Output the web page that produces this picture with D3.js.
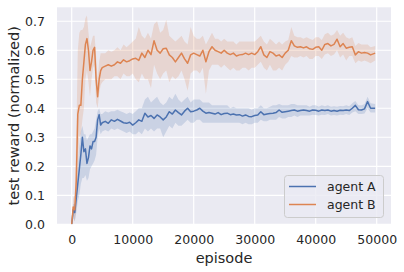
<!DOCTYPE html>
<html>
<head>
<meta charset="utf-8">
<script src="https://cdn.jsdelivr.net/npm/d3@7"></script>
<style>
  body { margin: 0; background: #fff; }
  svg text { font-family: "DejaVu Sans", sans-serif; fill: #262626; }
</style>
</head>
<body>
<script>
// episodes (x values)
const episodes = [0, 250, 500, 750, 1000, 1250, 1500, 1750, 2000, 2250, 2500, 2750, 3000, 3250, 3500, 3750, 4000, 4250, 4500, 4750, 5000,
  5500, 6000, 6500, 7000, 7500, 8000, 8500, 9000, 9500, 10000, 10500, 11000, 11500, 12000, 12500, 13000, 13500, 14000, 14500, 15000,
  15500, 16000, 16500, 17000, 17500, 18000, 18500, 19000, 19500, 20000, 20500, 21000, 21500, 22000, 22500, 23000, 23500, 24000, 24500, 25000,
  25500, 26000, 26500, 27000, 27500, 28000, 28500, 29000, 29500, 30000, 30500, 31000, 31500, 32000, 32500, 33000, 33500, 34000, 34500, 35000,
  35500, 36000, 36500, 37000, 37500, 38000, 38500, 39000, 39500, 40000, 40500, 41000, 41500, 42000, 42500, 43000, 43500, 44000, 44500, 45000,
  45500, 46000, 46500, 47000, 47500, 48000, 48500, 49000, 49750];

// agent A: mean and band
const agentA = [0.00, 0.05, 0.04, 0.09, 0.14, 0.19, 0.24, 0.30, 0.25, 0.26, 0.21, 0.23, 0.27, 0.26, 0.285, 0.285, 0.30, 0.36, 0.378, 0.342, 0.35,
  0.355, 0.348, 0.36, 0.355, 0.362, 0.356, 0.35, 0.348, 0.352, 0.342, 0.35, 0.36, 0.355, 0.383, 0.37, 0.375, 0.365, 0.377, 0.37, 0.36,
  0.37, 0.388, 0.38, 0.394, 0.385, 0.377, 0.39, 0.40, 0.388, 0.39, 0.394, 0.40, 0.39, 0.383, 0.385, 0.383, 0.38, 0.385, 0.378, 0.382,
  0.383, 0.378, 0.38, 0.377, 0.378, 0.373, 0.377, 0.372, 0.371, 0.375, 0.377, 0.388, 0.378, 0.38, 0.382, 0.383, 0.385, 0.394, 0.386, 0.388,
  0.39, 0.392, 0.394, 0.39, 0.392, 0.394, 0.392, 0.39, 0.394, 0.393, 0.39, 0.394, 0.392, 0.394, 0.39, 0.392, 0.39, 0.393, 0.392, 0.394,
  0.392, 0.40, 0.41, 0.395, 0.394, 0.398, 0.423, 0.40, 0.40];
const agentALow = [0.00, 0.02, 0.01, 0.04, 0.08, 0.10, 0.14, 0.16, 0.16, 0.17, 0.15, 0.16, 0.19, 0.20, 0.21, 0.22, 0.24, 0.30, 0.33, 0.31, 0.32,
  0.325, 0.32, 0.33, 0.325, 0.33, 0.325, 0.32, 0.315, 0.32, 0.31, 0.31, 0.32, 0.31, 0.33, 0.32, 0.33, 0.32, 0.33, 0.33, 0.30,
  0.32, 0.34, 0.33, 0.35, 0.34, 0.34, 0.35, 0.36, 0.35, 0.35, 0.36, 0.36, 0.35, 0.35, 0.35, 0.35, 0.35, 0.35, 0.35, 0.35,
  0.35, 0.35, 0.35, 0.35, 0.35, 0.345, 0.35, 0.345, 0.345, 0.35, 0.35, 0.36, 0.355, 0.355, 0.36, 0.36, 0.36, 0.37, 0.365, 0.365,
  0.37, 0.37, 0.375, 0.37, 0.375, 0.375, 0.375, 0.375, 0.378, 0.377, 0.375, 0.378, 0.377, 0.38, 0.375, 0.377, 0.375, 0.378, 0.377, 0.38,
  0.377, 0.385, 0.39, 0.38, 0.38, 0.382, 0.40, 0.385, 0.385];
const agentAHigh = [0.01, 0.07, 0.07, 0.14, 0.20, 0.27, 0.32, 0.34, 0.31, 0.31, 0.29, 0.30, 0.31, 0.31, 0.32, 0.33, 0.36, 0.39, 0.40, 0.38, 0.38,
  0.39, 0.385, 0.39, 0.39, 0.395, 0.39, 0.385, 0.38, 0.385, 0.38, 0.39, 0.40, 0.40, 0.43, 0.44, 0.42, 0.43, 0.44, 0.42, 0.41,
  0.42, 0.44, 0.43, 0.45, 0.43, 0.42, 0.43, 0.44, 0.42, 0.43, 0.43, 0.43, 0.42, 0.42, 0.42, 0.41, 0.41, 0.41, 0.41, 0.41,
  0.41, 0.40, 0.405, 0.40, 0.40, 0.40, 0.40, 0.40, 0.395, 0.40, 0.40, 0.41, 0.40, 0.40, 0.405, 0.41, 0.41, 0.415, 0.41, 0.41,
  0.41, 0.415, 0.415, 0.41, 0.41, 0.41, 0.41, 0.405, 0.41, 0.41, 0.405, 0.41, 0.407, 0.41, 0.405, 0.407, 0.405, 0.408, 0.407, 0.41,
  0.407, 0.417, 0.425, 0.41, 0.41, 0.414, 0.44, 0.417, 0.415];

// agent B: mean and band
const agentB = [0.00, 0.06, 0.05, 0.15, 0.38, 0.41, 0.41, 0.50, 0.56, 0.62, 0.64, 0.60, 0.53, 0.56, 0.60, 0.61, 0.50, 0.44, 0.50, 0.53, 0.54,
  0.545, 0.55, 0.545, 0.55, 0.56, 0.555, 0.567, 0.56, 0.564, 0.57, 0.572, 0.565, 0.59, 0.575, 0.60, 0.585, 0.633, 0.60, 0.59, 0.605,
  0.607, 0.584, 0.575, 0.56, 0.575, 0.59, 0.57, 0.555, 0.584, 0.59, 0.585, 0.58, 0.60, 0.56, 0.595, 0.612, 0.60, 0.595, 0.59, 0.60,
  0.59, 0.585, 0.59, 0.58, 0.584, 0.585, 0.59, 0.585, 0.59, 0.585, 0.595, 0.612, 0.584, 0.575, 0.595, 0.59, 0.58, 0.584, 0.575, 0.59,
  0.60, 0.633, 0.615, 0.61, 0.612, 0.608, 0.612, 0.605, 0.603, 0.61, 0.612, 0.60, 0.62, 0.623, 0.615, 0.62, 0.638, 0.612, 0.623, 0.607,
  0.61, 0.612, 0.584, 0.595, 0.59, 0.592, 0.59, 0.584, 0.59];
const agentBLow = [0.00, 0.03, 0.01, 0.05, 0.22, 0.30, 0.31, 0.36, 0.40, 0.50, 0.53, 0.49, 0.44, 0.50, 0.54, 0.55, 0.42, 0.40, 0.45, 0.48, 0.49,
  0.50, 0.50, 0.50, 0.51, 0.51, 0.50, 0.52, 0.51, 0.51, 0.52, 0.50, 0.49, 0.52, 0.50, 0.50, 0.47, 0.55, 0.52, 0.50, 0.52,
  0.53, 0.49, 0.51, 0.50, 0.51, 0.53, 0.50, 0.46, 0.52, 0.53, 0.53, 0.52, 0.54, 0.45, 0.53, 0.55, 0.55, 0.55, 0.54, 0.55,
  0.54, 0.53, 0.54, 0.53, 0.53, 0.54, 0.54, 0.53, 0.54, 0.54, 0.55, 0.56, 0.54, 0.53, 0.55, 0.53, 0.53, 0.54, 0.53, 0.55,
  0.56, 0.58, 0.575, 0.575, 0.58, 0.575, 0.58, 0.57, 0.57, 0.58, 0.58, 0.57, 0.585, 0.59, 0.58, 0.585, 0.60, 0.575, 0.585, 0.565,
  0.58, 0.58, 0.555, 0.565, 0.56, 0.565, 0.56, 0.555, 0.565];
const agentBHigh = [0.01, 0.09, 0.10, 0.30, 0.60, 0.66, 0.67, 0.67, 0.68, 0.71, 0.72, 0.66, 0.61, 0.63, 0.65, 0.65, 0.58, 0.50, 0.56, 0.59, 0.59,
  0.59, 0.60, 0.595, 0.60, 0.61, 0.60, 0.62, 0.61, 0.62, 0.63, 0.64, 0.68, 0.65, 0.64, 0.66, 0.64, 0.69, 0.70, 0.66, 0.67,
  0.705, 0.65, 0.64, 0.63, 0.64, 0.65, 0.63, 0.62, 0.68, 0.65, 0.64, 0.64, 0.65, 0.62, 0.64, 0.66, 0.64, 0.64, 0.63, 0.64,
  0.63, 0.63, 0.63, 0.62, 0.63, 0.63, 0.63, 0.63, 0.63, 0.63, 0.64, 0.65, 0.63, 0.62, 0.64, 0.63, 0.62, 0.63, 0.62, 0.63,
  0.635, 0.68, 0.65, 0.645, 0.645, 0.64, 0.645, 0.64, 0.635, 0.645, 0.645, 0.635, 0.655, 0.66, 0.65, 0.655, 0.67, 0.65, 0.66, 0.645,
  0.64, 0.645, 0.615, 0.625, 0.62, 0.62, 0.62, 0.61, 0.615];

const xTicks = [0, 10000, 20000, 30000, 40000, 50000];
const yTicks = [0.0, 0.1, 0.2, 0.3, 0.4, 0.5, 0.6, 0.7];
const seriesNames = ["agent A", "agent B"];
const seriesColors = ["#4C72B0", "#DD8452"];

const width = 404, height = 272;
const plot = { left: 57, right: 391, top: 7.3, bottom: 224.3 };

const svg = d3.select("body").append("svg")
  .attr("width", width)
  .attr("height", height);

const x = d3.scaleLinear().domain([-2410, 52344]).range([plot.left, plot.right]);
const y = d3.scaleLinear().domain([0, 0.748]).range([plot.bottom, plot.top]);

svg.append("rect")
  .attr("x", plot.left).attr("y", plot.top)
  .attr("width", plot.right - plot.left)
  .attr("height", plot.bottom - plot.top)
  .attr("fill", "#EAEAF2");

// grid
svg.append("g").selectAll("line").data(xTicks).join("line")
  .attr("x1", d => x(d)).attr("x2", d => x(d))
  .attr("y1", plot.top).attr("y2", plot.bottom)
  .attr("stroke", "#fff").attr("stroke-width", 1.2);
svg.append("g").selectAll("line").data(yTicks).join("line")
  .attr("x1", plot.left).attr("x2", plot.right)
  .attr("y1", d => y(d)).attr("y2", d => y(d))
  .attr("stroke", "#fff").attr("stroke-width", 1.2);

const series = [
  { mean: agentA, low: agentALow, high: agentAHigh },
  { mean: agentB, low: agentBLow, high: agentBHigh }
];

const clip = svg.append("clipPath").attr("id", "clip").append("rect")
  .attr("x", plot.left).attr("y", plot.top)
  .attr("width", plot.right - plot.left).attr("height", plot.bottom - plot.top);

const g = svg.append("g").attr("clip-path", "url(#clip)");

series.forEach((s, i) => {
  const area = d3.area()
    .x((d, j) => x(episodes[j]))
    .y0((d, j) => y(s.low[j]))
    .y1((d, j) => y(s.high[j]));
  g.append("path")
    .datum(s.mean)
    .attr("d", area)
    .attr("fill", seriesColors[i])
    .attr("fill-opacity", 0.2);
});

series.forEach((s, i) => {
  const line = d3.line()
    .x((d, j) => x(episodes[j]))
    .y(d => y(d));
  g.append("path")
    .datum(s.mean)
    .attr("d", line)
    .attr("fill", "none")
    .attr("stroke", seriesColors[i])
    .attr("stroke-width", 1.5)
    .attr("stroke-linejoin", "round");
});

// axes (labels only, seaborn darkgrid style)
const xAxis = svg.append("g")
  .attr("transform", `translate(0,${plot.bottom})`)
  .call(d3.axisBottom(x).tickValues(xTicks).tickSize(0).tickPadding(0).tickFormat(d3.format("d")));
xAxis.select(".domain").remove();
xAxis.selectAll("text")
  .attr("y", 19.7).attr("dy", 0)
  .style("font-size", "12.5px");

const yAxis = svg.append("g")
  .attr("transform", `translate(${plot.left},0)`)
  .call(d3.axisLeft(y).tickValues(yTicks).tickSize(0).tickPadding(12).tickFormat(d3.format(".1f")));
yAxis.select(".domain").remove();
yAxis.selectAll("text").style("font-size", "12.5px");

svg.append("text")
  .attr("x", (plot.left + plot.right) / 2)
  .attr("y", 262.5)
  .attr("text-anchor", "middle")
  .style("font-size", "14.5px")
  .text("episode");

svg.append("text")
  .attr("transform", `translate(18.5,${(plot.top + plot.bottom) / 2}) rotate(-90)`)
  .attr("text-anchor", "middle")
  .style("font-size", "14.5px")
  .text("test reward (normalized)");

// legend
const legend = svg.append("g");
legend.append("rect")
  .attr("x", 284.5).attr("y", 175.5)
  .attr("width", 99).attr("height", 42)
  .attr("rx", 3)
  .attr("fill", "#EAEAF2").attr("fill-opacity", 0.8)
  .attr("stroke", "#cccccc").attr("stroke-width", 1);
seriesNames.forEach((name, i) => {
  const ly = 186.5 + i * 18;
  legend.append("line")
    .attr("x1", 289).attr("x2", 316)
    .attr("y1", ly).attr("y2", ly)
    .attr("stroke", seriesColors[i]).attr("stroke-width", 1.5);
  legend.append("text")
    .attr("x", 327).attr("y", ly)
    .attr("dy", "0.35em")
    .style("font-size", "12.5px")
    .text(name);
});
</script>
</body>
</html>
